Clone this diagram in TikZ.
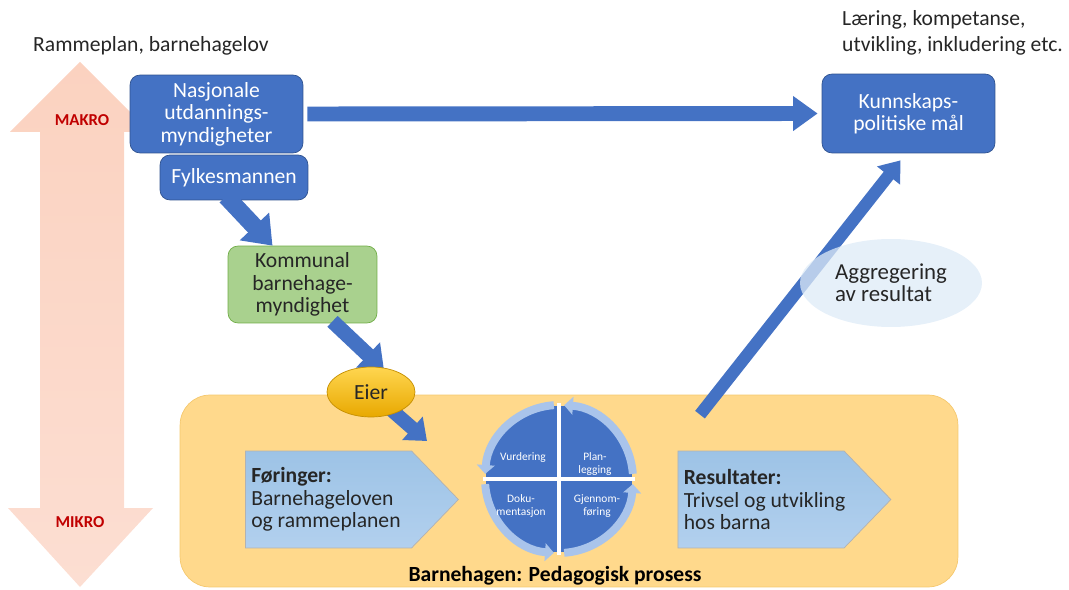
\documentclass[tikz,border=0pt]{standalone}
\usepackage{fontspec}
\setmainfont{Carlito}
\usepackage{xcolor}
\usepackage{tikz}
\definecolor{boxblue}{RGB}{68, 114, 196}
\definecolor{boxedge}{RGB}{47, 82, 143}
\definecolor{kommgreen}{RGB}{169, 209, 142}
\definecolor{kommedge}{RGB}{112, 173, 71}
\definecolor{eiertop}{RGB}{255, 214, 80}
\definecolor{eierbottom}{RGB}{232, 168, 0}
\definecolor{bhgorange}{RGB}{255, 217, 140}
\definecolor{bhgedge}{RGB}{245, 200, 110}
\definecolor{pentblue}{RGB}{157, 195, 230}
\definecolor{pentlight}{RGB}{178, 208, 238}
\definecolor{ringblue}{RGB}{169, 196, 235}
\definecolor{ellblue}{RGB}{222, 235, 247}
\definecolor{makrored}{RGB}{192, 0, 0}
\definecolor{salmon}{RGB}{249, 168, 136}
\definecolor{pinktop}{RGB}{251, 210, 192}
\definecolor{pinkbottom}{RGB}{252, 222, 210}
\definecolor{darktext}{RGB}{38, 38, 38}
\usetikzlibrary{shapes, arrows.meta, positioning, calc}

\begin{document}
\begin{tikzpicture}[
    x=0.02cm, y=0.02cm,
    font=\fontsize{12.3}{12.8}\selectfont,
    bluebox/.style={rectangle, draw=boxedge, fill=boxblue, rounded corners=0.2cm, text=white, align=center},
    kommbox/.style={rectangle, draw=kommedge, fill=kommgreen, rounded corners=0.2cm, text=darktext, align=center},
    pent/.style={signal, signal to=east, signal pointer angle=92, draw=gray!60, top color=pentblue, bottom color=pentlight, minimum width=4.26cm, minimum height=1.94cm, inner sep=0pt},
    pentxt/.style={anchor=west, align=left, text=darktext},
    blockarrow/.style={draw=boxblue},
    quadtxt/.style={text=white, align=center, font=\fontsize{6.5}{7.2}\selectfont},
    ringarrow/.style={draw=ringblue, line width=4.5pt, -{Triangle[length=5pt, width=10pt]}},
    levtxt/.style={text=makrored, font=\fontsize{9.5}{10}\selectfont\bfseries}
]
    \useasboundingbox (0,0) rectangle (1069,589);

    \shade[top color=pinktop, middle color=salmon, bottom color=pinkbottom]
        (80,527) -- (150,457) -- (124,457) -- (124,81) -- (153,81) -- (80,2) -- (8,81) -- (40,81) -- (40,457) -- (10,457) -- cycle;
    \node[levtxt] (makro) at (82,469) {MAKRO};
    \node[levtxt] (mikro) at (80,67) {MIKRO};

    \node[anchor=west, text=darktext] (ramme) at (27,543) {Rammeplan, barnehagelov};
    \node[anchor=west, align=left, text=darktext, font=\fontsize{12.3}{14.7}\selectfont] (laering) at (836,556) {Læring, kompetanse,\\utvikling, inkludering etc.};

    \node[rectangle, fill=bhgorange, draw=bhgedge, rounded corners=0.6cm, minimum width=15.56cm, minimum height=3.84cm] (bhg) at (569,98) {};
    \node[font=\fontsize{12.3}{12.8}\selectfont\bfseries, text=black] (bhglabel) at (555,13) {Barnehagen: Pedagogisk prosess};

    \node[pent] (foer) at (328.5,89.5) {};
    \node[pentxt] (foertxt) at (foer.west) {\textbf{Føringer:}\\Barnehageloven\\og rammeplanen};
    \node[pent] (res) at (761,89.5) {};
    \node[pentxt] (restxt) at (res.west) {\textbf{Resultater:}\\Trivsel og utvikling\\hos barna};

    \coordinate (cyc) at (559,110);
    \fill[boxblue] (cyc) circle[radius=73];
    \draw[white, line width=2.5pt] ([shift={(-76,0)}]cyc) -- ([shift={(76,0)}]cyc);
    \draw[white, line width=2.5pt] ([shift={(0,-76)}]cyc) -- ([shift={(0,76)}]cyc);
    \foreach \a in {0,90,180,270}
        \draw[ringarrow] ([shift={(\a+4:74)}]cyc) arc[start angle=\a+4, end angle=\a+86, radius=74];
    \node[quadtxt] (vurd) at ([shift={(-36,21)}]cyc) {Vurdering};
    \node[quadtxt] (plan) at ([shift={(36,15)}]cyc) {Plan-\\legging};
    \node[quadtxt] (doku) at ([shift={(-38,-27)}]cyc) {Doku-\\mentasjon};
    \node[quadtxt] (gjen) at ([shift={(38,-27)}]cyc) {Gjennom-\\føring};

    \node[bluebox, minimum width=3.46cm, minimum height=1.56cm] (nasj) at (216.5,475) {Nasjonale\\utdannings-\\myndigheter};
    \node[bluebox, minimum width=2.96cm, minimum height=0.9cm] (fylke) at (234,411.5) {Fylkesmannen};
    \node[kommbox, minimum width=2.98cm, minimum height=1.54cm] (komm) at (302.5,304.5) {Kommunal\\barnehage-\\myndighet};
    \node[bluebox, minimum width=3.46cm, minimum height=1.58cm] (kunn) at (908.5,475.5) {Kunnskaps-\\politiske mål};

    \draw[blockarrow, line width=8.5pt, -{Triangle[length=14pt, width=19pt]}] ([shift={(4,0)}]nasj.east) -- ([shift={(-4,0)}]kunn.west);
    \draw[blockarrow, line width=10pt, -{Triangle[length=15pt, width=22pt]}] ([shift={(-8,4)}]fylke.south) -- ([shift={(-30,0)}]komm.north);
    \draw[blockarrow, line width=8.5pt, -{Triangle[length=12.5pt, width=19pt]}] ([shift={(30,2)}]komm.south) -- (384,219);

    \coordinate (eiertip) at (427,148);
    \draw[blockarrow, line width=8pt, -{Triangle[length=11pt, width=17pt]}] (371,197) -- (eiertip);
    \node[ellipse, draw=eierbottom!85!black, top color=eiertop, bottom color=eierbottom, minimum width=1.76cm, minimum height=1cm, text=darktext] (eier) at (371,197) {Eier};

    \draw[blockarrow, line width=7pt, -{Triangle[length=11pt, width=16pt]}] ([shift={(131,-20)}]bhg.north) -- ([shift={(-8,-7)}]kunn.south);
    \node[ellipse, fill=ellblue, fill opacity=0.75, text opacity=1, minimum width=3.64cm, minimum height=1.76cm, align=left, text=darktext, font=\fontsize{13}{12.5}\selectfont] (aggr) at (891,306) {Aggregering\\av resultat};
\end{tikzpicture}
\end{document}
